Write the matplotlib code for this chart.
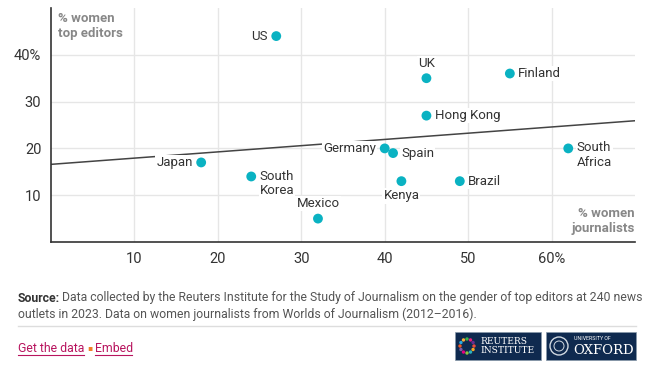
import numpy as np
import matplotlib
matplotlib.use("Agg")
from matplotlib import pyplot as plt
from matplotlib.patches import Rectangle, Ellipse

plt.rcParams['font.family'] = ['Roboto', 'DejaVu Sans']

countries = ["US", "UK", "Finland", "Hong Kong", "Germany", "Spain", "Kenya",
             "Brazil", "South\nAfrica", "Japan", "South\nKorea", "Mexico"]
women_journalists = [27, 45, 55, 45, 40, 41, 42, 49, 62, 18, 24, 32]
women_editors = [44, 35, 36, 27, 20, 19, 13, 13, 20, 17, 14, 5]
# where each label sits relative to its dot
label_side = ["left", "above", "right", "right", "left", "right", "below",
              "right", "right_top", "left", "right_top", "above"]

xticks = [10, 20, 30, 40, 50, 60]
xticklabels = ["10", "20", "30", "40", "50", "60%"]
yticks = [10, 20, 30, 40]
yticklabels = ["10", "20", "30", "40%"]

dot_color = "#0ab2c2"
text_color = "#333333"
W, H = 649, 381

fig = plt.figure(figsize=(W / 100, H / 100), dpi=100)
ax = fig.add_axes([51 / W, 1 - 242 / H, (635 - 51) / W, (242 - 8) / H])

ax.set_xlim(0, 70)
ax.set_ylim(0, 50)
ax.set_xticks(xticks)
ax.set_xticklabels(xticklabels)
ax.set_yticks(yticks)
ax.set_yticklabels(yticklabels)
ax.tick_params(length=0, labelsize=10.5, labelcolor=text_color, pad=7)
ax.grid(True, color="#e6e6e6", linewidth=1)
ax.set_axisbelow(True)
for s in ["top", "right"]:
    ax.spines[s].set_visible(False)
for s in ["left", "bottom"]:
    ax.spines[s].set_color("#333333")
    ax.spines[s].set_linewidth(1.2)

# trend line (least squares over the countries)
slope, intercept = np.polyfit(women_journalists, women_editors, 1)
xs = np.array([0, 70])
ax.plot(xs, intercept + slope * xs, color="#444444", linewidth=1.1, zorder=2)

ax.scatter(women_journalists, women_editors, s=50, color=dot_color,
           edgecolor="none", zorder=4)

offsets = {
    "left": ((-6, 0), "right", "center"),
    "right": ((6, 0), "left", "center"),
    "above": ((0, 6), "center", "bottom"),
    "below": ((0, -6), "center", "top"),
    "right_top": ((6, 5), "left", "top"),
}
for name, x, y, side in zip(countries, women_journalists, women_editors, label_side):
    off, ha, va = offsets[side]
    ax.annotate(name, (x, y), xytext=off, textcoords="offset points",
                ha=ha, va=va, fontsize=9.5, color=text_color, zorder=3,
                linespacing=1.15,
                bbox=dict(boxstyle="square,pad=0.08", fc="white", ec="none"))

ax.text(0.012, 0.985, "% women\ntop editors", transform=ax.transAxes,
        ha="left", va="top", fontsize=9.5, fontweight="bold", color="#888888",
        linespacing=1.2)
ax.text(1.0, 0.03, "% women\njournalists", transform=ax.transAxes,
        ha="right", va="bottom", fontsize=9.5, fontweight="bold", color="#888888",
        linespacing=1.2)

# footer
fs = 8.8
fig.text(18 / W, 1 - 298 / H, "Source:", fontsize=fs, fontweight="bold",
         color="#333333", ha="left", va="center")
fig.text(62 / W, 1 - 298 / H,
         "Data collected by the Reuters Institute for the Study of Journalism on the gender of top editors at 240 news",
         fontsize=fs, color="#555555", ha="left", va="center")
fig.text(18 / W, 1 - 314 / H,
         "outlets in 2023. Data on women journalists from Worlds of Journalism (2012\u20132016).",
         fontsize=fs, color="#555555", ha="left", va="center")
fig.add_artist(plt.Line2D([18 / W, 636 / W], [1 - 326 / H, 1 - 326 / H],
                          color="#dddddd", linewidth=1))

link_color = "#b8145e"
fig.text(18 / W, 1 - 348 / H, "Get the data", fontsize=fs, color=link_color,
         ha="left", va="center")
fig.text(89.5 / W, 1 - 348 / H, "\u25aa", fontsize=5.5, color="#f07e26",
         ha="center", va="center")
fig.text(95 / W, 1 - 348 / H, "Embed", fontsize=fs, color=link_color,
         ha="left", va="center")
for x0, x1 in [(18, 84), (95, 132)]:
    fig.add_artist(plt.Line2D([x0 / W, x1 / W], [1 - 355 / H, 1 - 355 / H],
                              color=link_color, linewidth=0.8))

navy = "#0f2a4f"
for x0, x1 in [(455, 541), (546, 636)]:
    fig.add_artist(Rectangle((x0 / W, 1 - 360 / H), (x1 - x0) / W, 28 / H,
                             transform=fig.transFigure, facecolor=navy,
                             edgecolor="#8899aa", linewidth=0.5))
# reuters ring of dots
ring_colors = ["#e94b3c", "#f7a823", "#2bb3c0", "#8cc63f", "#e5007e", "#7f5ba6",
               "#f15a24", "#29abe2", "#fbb03b", "#39b54a", "#ed1e79", "#662d91"]
for i, c in enumerate(ring_colors):
    a = 2 * np.pi * i / len(ring_colors)
    cx, cy = 467 + 7 * np.cos(a), 346 + 7 * np.sin(a)
    fig.add_artist(Ellipse((cx / W, 1 - cy / H), 3.4 / W, 3.4 / H,
                           transform=fig.transFigure, facecolor=c, edgecolor="none"))
fig.text(480 / W, 1 - 346 / H, "REUTERS\nINSTITUTE", fontsize=6.6, color="white",
         family="DejaVu Serif", ha="left", va="center", linespacing=0.95)
fig.add_artist(Ellipse((559 / W, 1 - 346 / H), 18 / W, 18 / H,
                       transform=fig.transFigure, facecolor="none",
                       edgecolor="#d0d8e0", linewidth=1))
fig.add_artist(Ellipse((559 / W, 1 - 346 / H), 10 / W, 10 / H,
                       transform=fig.transFigure, facecolor="none",
                       edgecolor="#d0d8e0", linewidth=0.7))
fig.text(574 / W, 1 - 339 / H, "UNIVERSITY OF", fontsize=3.8, color="white",
         ha="left", va="center")
fig.text(573 / W, 1 - 351 / H, "OXFORD", fontsize=9.5, color="white",
         family="DejaVu Serif", ha="left", va="center")

fig.savefig("out.png", dpi=100, facecolor="white")
